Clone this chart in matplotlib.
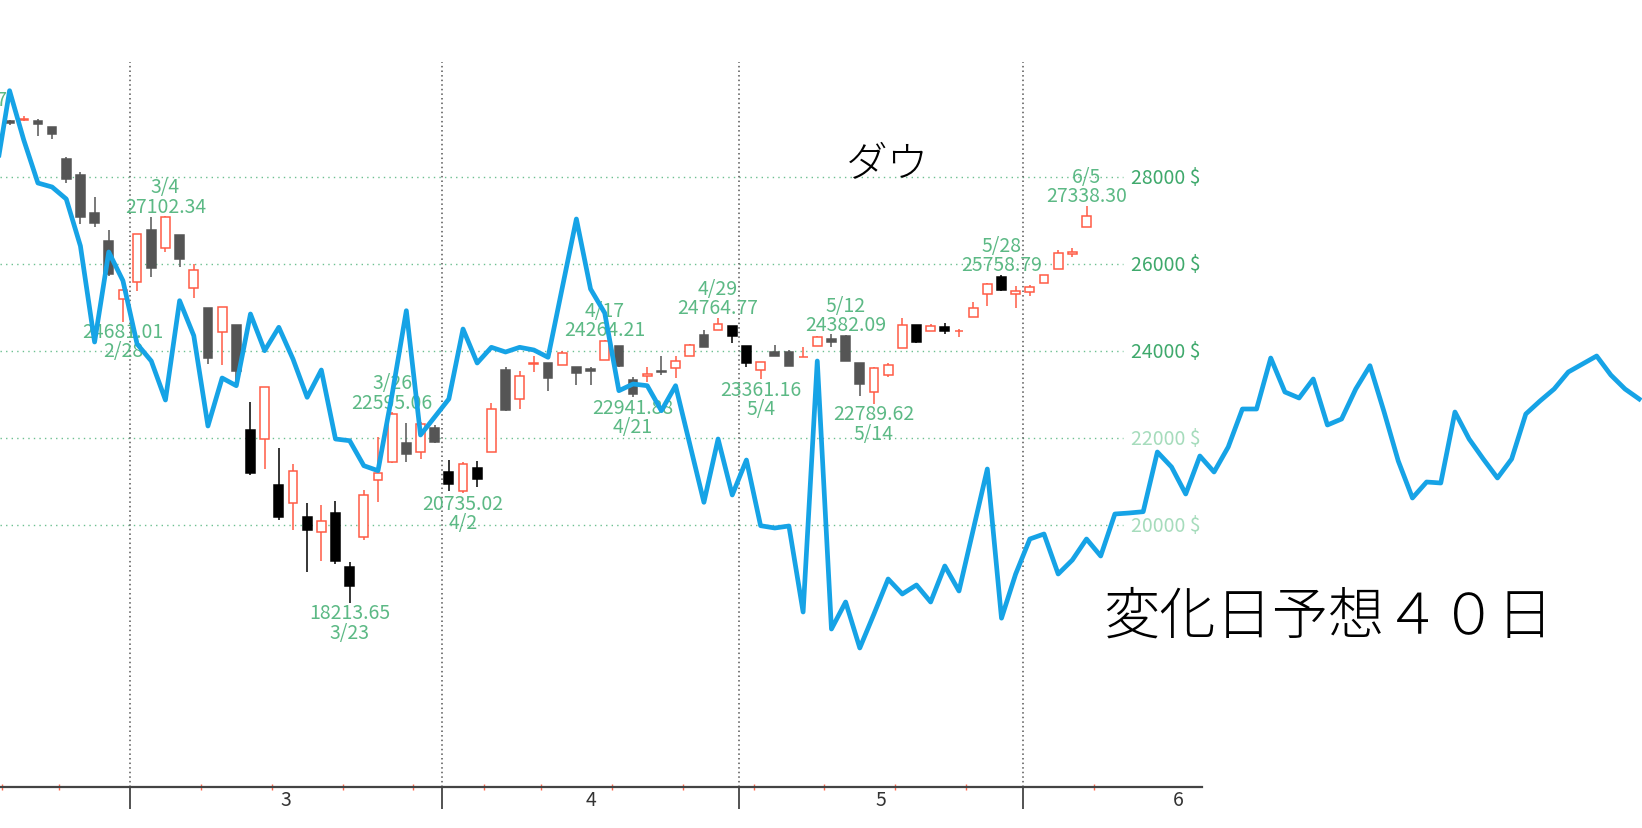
import matplotlib
matplotlib.use("Agg")
import matplotlib.pyplot as plt
import matplotlib.transforms as mtransforms
import numpy as np

# day index: 0 = 2020/3/2 (trading days only)
candle_days = np.arange(-9, 68)
opens = [29290, 29320, 29300, 29164, 28421, 28060, 27180, 26530, 25200,
         25590, 26790, 26383, 26671, 25457, 24992, 24453, 24604, 22184, 21973, 20918,
         20502, 20193, 19835, 20272, 19030, 19734, 21045, 21459, 21889, 21689, 22227,
         21229, 20793, 21307, 21689, 23575, 22901, 23700, 23722, 23683, 23630, 23590,
         23805, 24113, 23345, 23440, 23540, 23607, 23883, 24373, 24495, 24587,
         24127, 23575, 23975, 23975, 23860, 24113, 24270, 24357, 23729, 23055, 23453,
         24067, 24603, 24458, 24564, 24455, 24780, 25316, 25700, 25316,
         25355, 25569, 25892, 26236, 26850]
highs = [29310, 29400, 29330, 29164, 28460, 28130, 27540, 26790, 25420,
         26706, 27084, 27102, 26671, 25995, 24992, 25020, 24604, 22838, 23186, 21768,
         21406, 20502, 20463, 20548, 19145, 20800, 22020, 22595, 22349, 22378, 22300,
         21498, 21450, 21467, 22810, 23630, 23540, 23880, 23722, 24011, 23640, 23640,
         24264, 24113, 23400, 23630, 23898, 23890, 24160, 24480, 24765, 24587,
         24127, 23760, 24135, 24030, 24106, 24350, 24400, 24382, 23729, 23640, 23730,
         24765, 24603, 24620, 24660, 24500, 25140, 25560, 25759, 25500,
         25520, 25760, 26330, 26383, 27338]
lows = [29200, 29300, 28960, 28881, 27860, 26920, 26860, 25740, 24681,
        25391, 25706, 26286, 25943, 25226, 23706, 23690, 23328, 21154, 21285, 20116,
        19899, 18917, 19177, 19106, 18214, 19666, 20538, 21428, 21459, 21528, 21889,
        20778, 20735, 20883, 21689, 22633, 22671, 23515, 23092, 23683, 23223, 23223,
        23805, 23644, 22942, 23300, 23450, 23377, 23883, 24090, 24495, 24200,
        23645, 23361, 23883, 23664, 23860, 24113, 24090, 23764, 22970, 22790, 23400,
        24067, 24189, 24458, 24400, 24320, 24780, 25040, 25392, 25000,
        25280, 25569, 25892, 26175, 26850]
closes = [29240, 29345, 29220, 28992, 27961, 27081, 26957, 25766, 25409,
          26703, 25917, 27091, 26121, 25864, 23851, 25018, 23553, 21200, 23186, 20189,
          21237, 19899, 20087, 19174, 18592, 20704, 21201, 22552, 21637, 22327, 21917,
          20943, 21413, 21052, 22680, 22654, 23434, 23719, 23390, 23949, 23504, 23537,
          24242, 23650, 23018, 23475, 23515, 23775, 24134, 24101, 24634, 24346,
          23724, 23749, 23883, 23664, 23875, 24331, 24221, 23764, 23248, 23625, 23685,
          24597, 24207, 24576, 24474, 24465, 24995, 25548, 25400, 25383,
          25475, 25742, 26270, 26281, 27111]
# r = up (hollow red), g = down (grey), k = down (black)
kinds = list("grggggggr"
             "rgrgrgrgkrkrkrkkrrrgrg"
             "krkrgrrgrggrggrgrrgrk"
             "krggrrgggrrrkrkrrrkr"
             "rrrrr")

# blue forecast line, day -10 .. 106
fc_days = np.arange(-10, 107)
fc_vals = [28007, 29992, 28860, 27869, 27777, 27501, 26420, 24212, 26282, 25622,
           24166, 23775, 22878, 25162, 24357, 22280, 23384, 23207, 24856, 24012,
           24550, 23821, 22940, 23568, 21981, 21942, 21367, 21252, 23016, 24932,
           22073, 22487, 22901, 24511, 23729, 24090, 23982, 24090, 24028, 23860,
           25454, 27041, 25431, 24879, 23092, 23246, 23207, 22632, 23207, 21866,
           20525, 21981, 20693, 21498, 19987, 19934, 19980, 18002, 23775, 17611,
           18232, 17174, 17956, 18761, 18416, 18623, 18232, 19060, 18485, 19888,
           21291, 17860, 18876, 19681, 19796, 18876, 19198, 19681, 19290, 20256,
           20279, 20309, 21682, 21337, 20716, 21590, 21222, 21797, 22671, 22671,
           23844, 23062, 22924, 23361, 22303, 22441, 23131, 23667, 22602, 21475,
           20624, 20992, 20969, 22602, 21981, 21521, 21084, 21521, 22556, 22855,
           23131, 23522, 23706, 23890, 23453, 23131, 22901]

ann_dates = ["2/12", "2/28", "3/4", "3/23", "3/26", "4/2", "4/17", "4/21",
             "4/29", "5/4", "5/12", "5/14", "5/28", "6/5"]
ann_days = [-12, -1, 2, 15, 18, 23, 33, 35, 41, 44, 50, 52, 61, 67]
ann_vals = ["29568.57", "24681.01", "27102.34", "18213.65", "22595.06", "20735.02",
            "24264.21", "22941.88", "24764.77", "23361.16", "24382.09", "22789.62",
            "25758.79", "27338.30"]
ann_side = ["high", "low", "high", "low", "high", "low", "high", "low",
            "high", "low", "high", "low", "high", "high"]

grid_levels = [20000, 22000, 24000, 26000, 28000]
month_seps = [-0.5, 21.5, 42.5, 62.5]
week_ticks = [-9.5, -5.5, -0.5, 4.5, 9.5, 14.5, 19.5, 24.5, 28.5, 33.5, 38.5,
              43.5, 48.5, 53.5, 58.5, 62.5, 67.5]
month_names = ["3", "4", "5", "6"]
month_pos = [10.5, 32, 52.5, 73.5]

num_font = ["Noto Sans CJK JP", "DejaVu Sans"]
jp_font = ["Noto Sans CJK JP", "DejaVu Sans"]

green = "#5cb985"
up_col = "#ff5b45"
col_map = {"r": up_col, "g": "#555555", "k": "#000000"}

W, H = 1642, 829
fig = plt.figure(figsize=(W / 100, H / 100), dpi=100)
ax = fig.add_axes([0, 1 - 788 / H, 1, (788 - 63) / H])
x_lo, x_hi = -9.675, 106.2
y_lo, y_hi = 13977, 30652
ax.set_xlim(x_lo, x_hi)
ax.set_ylim(y_lo, y_hi)

# grid
ax.hlines(grid_levels, x_lo, 69.6, colors="#6cc090", linestyles=(0, (1, 3)), lw=1.0, zorder=1)
ax.vlines(month_seps, y_lo, y_hi, colors="#555555", linestyles=(0, (1, 2)), lw=1.1, zorder=1)

# candles
for d, o, h, l, c, k in zip(candle_days, opens, highs, lows, closes, kinds):
    col = col_map[k]
    ax.vlines(d, l, h, color=col, lw=1.1, zorder=3)
    lo, hi = min(o, c), max(o, c)
    ax.bar(d, hi - lo, width=0.62, bottom=lo, facecolor="white" if k == "r" else col,
           edgecolor=col, linewidth=1.1, zorder=4)

# annotations: date + value as one two-line label
for dt, d, v, side in zip(ann_dates, ann_days, ann_vals, ann_side):
    if side == "high":
        txt, off = f"{dt}\n{v}", 14.2
    else:
        txt, off = f"{v}\n{dt}", -14.2
    ax.annotate(txt, xy=(d, float(v)), xytext=(0, off), textcoords="offset points",
                ha="center", va="center", multialignment="center", linespacing=0.89,
                fontsize=14, color=green, family=num_font, zorder=5,
                annotation_clip=False)

# y labels
for lv in grid_levels:
    c = "#a6dcbc" if lv < 24000 else "#3fa96c"
    ax.text(70.15, lv, f"{lv} $", ha="left", va="center", fontsize=14, color=c,
            family=num_font, zorder=5)

# forecast line
ax.plot(fc_days, fc_vals, color="#16a3e6", lw=3.4, zorder=6, solid_joinstyle="round",
        clip_on=False)

# axis styling
for s in ("left", "right", "top"):
    ax.spines[s].set_visible(False)
ax.spines["bottom"].set_color("#444444")
ax.spines["bottom"].set_linewidth(1.6)
ax.spines["bottom"].set_bounds(x_lo, 75.15)
ax.set_yticks([])
ax.set_xticks(month_seps)
ax.set_xticklabels([])
ax.set_xticks(week_ticks, minor=True)
ax.tick_params(axis="x", which="major", length=16, width=1.3, color="#444444", direction="out")
ax.tick_params(axis="x", which="minor", length=4, width=1.0, color="#ff6a50", direction="inout")

trans = mtransforms.blended_transform_factory(ax.transData, ax.transAxes)
for m, p in zip(month_names, month_pos):
    ax.text(p, -0.0166, m, transform=trans, ha="center", va="center", fontsize=14,
            color="#333333", family=num_font)

fig.text(888 / W, 1 - 165 / H, "ダウ", ha="center", va="center", fontsize=30,
         family=jp_font, fontweight="light", color="black")
fig.text(1103 / W, 1 - 617 / H, "変化日予想４０日", ha="left", va="center", fontsize=40.5,
         family=jp_font, fontweight="light", color="black")

fig.savefig("out.png", dpi=100, facecolor="white")
